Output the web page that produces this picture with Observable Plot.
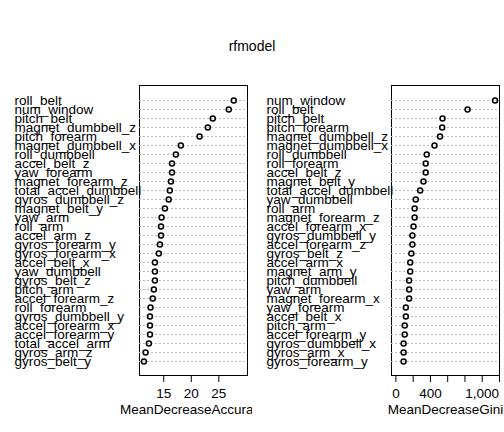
<!DOCTYPE html>
<html><head>
<script src="https://cdn.jsdelivr.net/npm/d3@7"></script>
<script src="https://cdn.jsdelivr.net/npm/@observablehq/plot@0.6"></script>
<style>
body{margin:0;background:#fff;font-family:"Liberation Sans",Arial,sans-serif}
#wrap{position:relative;width:504px;height:432px}
#title{position:absolute;top:38px;width:504px;text-align:center;font-size:14px}
#panels{display:flex}
</style></head><body>
<div id="wrap"><div id="title">rfmodel</div><div id="panels"></div></div>
<script>
const accNames = ["roll_belt","num_window","pitch_belt","magnet_dumbbell_z","pitch_forearm","magnet_dumbbell_x","roll_dumbbell","accel_belt_z","yaw_forearm","magnet_forearm_z","total_accel_dumbbell","gyros_dumbbell_z","magnet_belt_y","yaw_arm","roll_arm","accel_arm_z","gyros_forearm_y","gyros_forearm_x","accel_belt_x","yaw_dumbbell","gyros_belt_z","pitch_arm","accel_forearm_z","roll_forearm","gyros_dumbbell_y","accel_forearm_x","accel_forearm_y","total_accel_arm","gyros_arm_z","gyros_belt_y"];
const accValues = [27.7,26.8,23.9,23.0,21.5,18.1,17.2,16.5,16.5,16.3,16.1,15.9,15.2,14.6,14.5,14.5,14.3,14.1,13.4,13.4,13.4,13.2,13.0,12.6,12.5,12.5,12.5,12.3,11.7,11.4];
const giniNames = ["num_window","roll_belt","pitch_belt","pitch_forearm","magnet_dumbbell_z","magnet_dumbbell_x","roll_dumbbell","roll_forearm","accel_belt_z","magnet_belt_y","total_accel_dumbbell","yaw_dumbbell","roll_arm","magnet_forearm_z","accel_forearm_x","gyros_dumbbell_y","accel_forearm_z","gyros_belt_z","accel_arm_x","magnet_arm_y","pitch_dumbbell","yaw_arm","magnet_forearm_x","yaw_forearm","accel_belt_x","pitch_arm","accel_forearm_y","gyros_dumbbell_x","gyros_arm_x","gyros_forearm_y"];
const giniValues = [1149,830,540,536,511,447,357,345,345,319,281,230,217,217,204,191,191,179,166,166,153,153,153,115,115,102,102,89,89,89];

function panel(names, values, label, domain, ticks, shown) {
  const data = names.map((n, i) => ({n, v: values[i]}));
  return Plot.plot({
    width: 252, height: 432,
    marginLeft: 139, marginRight: 5, marginTop: 85, marginBottom: 57,
    style: {fontFamily: "Liberation Sans, Arial, sans-serif", fontSize: "13.5px", color: "#000"},
    x: {domain, axis: null},
    y: {type: "point", domain: names, padding: 1.2, axis: null},
    marks: [
      Plot.frame({stroke: "#000"}),
      Plot.ruleY(data, {y: "n", stroke: "#bbb", strokeDasharray: "2 2"}),
      Plot.dot(data, {x: "v", y: "n", r: 2.5, stroke: "#000", fill: "none"}),
      Plot.text(data, {y: "n", text: "n", frameAnchor: "left", dx: -125, textAnchor: "start", fontSize: 13.5, fill: "#000"}),
      Plot.axisX({ticks, tickSize: 7, tickPadding: 6, tickFormat: d => shown.includes(d) ? d : "", fontSize: 13.5,
        label, labelAnchor: "center", labelArrow: "none", labelOffset: 38})
    ]
  });
}
const p = document.getElementById("panels");
p.appendChild(panel(accNames, accValues, "MeanDecreaseAccuracy", [10.6, 30.2], [15, 20, 25], [15, 20, 25]));
p.appendChild(panel(giniNames, giniValues, "MeanDecreaseGini", [-51, 1200], [0,200,400,600,800,1000,1200], [0,400,1000]));
</script></body></html>
